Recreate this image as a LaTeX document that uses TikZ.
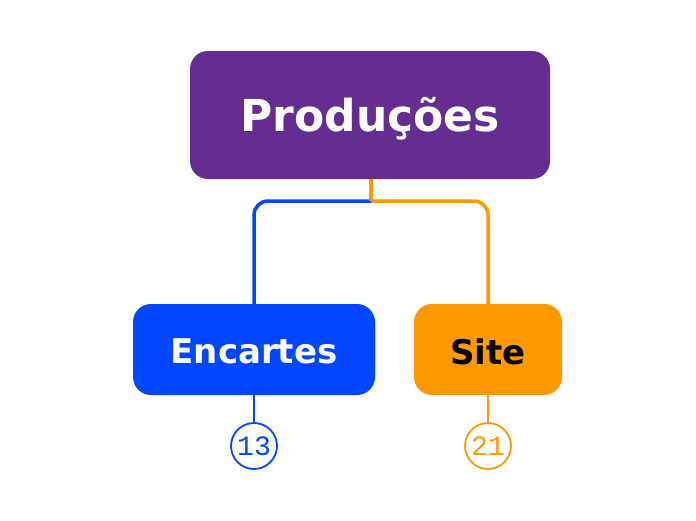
\documentclass[tikz,border=0pt]{standalone}
\usepackage{fontspec}
\setmainfont{DejaVu Sans}
\newfontfamily\numfont{Liberation Mono}
\definecolor{rootc}{HTML}{662D91}
\definecolor{bluec}{HTML}{0047FF}
\definecolor{orangec}{HTML}{FF9900}
\tikzset{
  box/.style={rounded corners=18pt, inner sep=0pt},
  conn/.style={line width=3.5pt, rounded corners=14pt},
  badge/.style={circle, draw, line width=1.8pt, minimum size=46pt, inner sep=0pt, fill=white, font=\numfont\fontsize{28}{28}\selectfont},
}
\begin{document}
\begin{tikzpicture}[x=1pt,y=-1pt]
\useasboundingbox (0,0) rectangle (696,520);
\node[box, fill=rootc, minimum width=360pt, minimum height=128pt] (root) at (370,115) {};
\node[text=white, font=\bfseries\fontsize{44}{44}\selectfont] (roott) at (370,119) {Produções};
\node[box, fill=bluec, minimum width=242pt, minimum height=91pt] (enc) at (254,349.5) {};
\node[text=white, font=\bfseries\fontsize{34}{34}\selectfont] (enct) at (254,351.5) {Encartes};
\node[box, fill=orangec, minimum width=148pt, minimum height=91pt] (site) at (488,349.5) {};
\node[text=black, font=\bfseries\fontsize{34}{34}\selectfont] (sitet) at (488,351.5) {Site};
\coordinate (j) at (371,201);
\draw[conn, bluec] (j) -- (254,201) -- (enc.north);
\draw[conn, orangec] (j) -- (488,201) -- (site.north);
\draw[orangec, line width=4pt] (root.south -| j) -- (j);
\node[badge, draw=bluec, text=bluec] (n1) at (254,446) {13};
\node[badge, draw=orangec, text=orangec] (n2) at (488,446) {21};
\draw[bluec, line width=1.8pt] (enc.south) -- (n1.north);
\draw[orangec, line width=1.8pt] (site.south) -- (n2.north);
\end{tikzpicture}
\end{document}
